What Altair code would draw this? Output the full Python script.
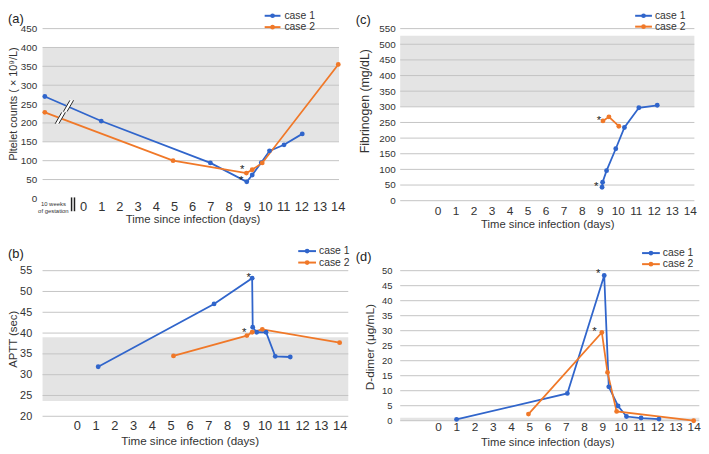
import altair as alt
import pandas as pd

CASES = ["case 1", "case 2"]
COLORS = ["#3065CB", "#F07828"]
BAND_COLOR = "#E4E4E4"
GRID_COLOR = "#C4C4C4"
TEXT_COLOR = "#333333"
FONT = "Liberation Sans"
DAY_TICKS = list(range(0, 15))
XTITLE = "Time since infection (days)"

# (a) platelet counts
A_DAYS_1 = [-2.1, 1.0, 7.0, 9.0, 9.3, 9.8, 10.25, 11.05, 12.05]
A_VALS_1 = [270, 205, 94, 44, 62, 95, 126, 142, 171]
A_DAYS_2 = [-2.1, 4.95, 8.98, 9.3, 9.85, 14.03]
A_VALS_2 = [228, 100, 67, 76, 94, 355]
A_TICKS = [0, 50, 100, 150, 200, 250, 300, 350, 400, 450]
A_GRID = [50, 100, 150, 200, 250, 300, 350, 400, 450]
A_BAND = [150, 400]
A_STAR_DAYS = [8.75, 8.7]
A_STAR_VALS = [84, 53]
A_BREAK_DAYS = [-0.8, -1.25]
A_BREAK_VALS = [245, 213]
GESTATION_LABEL = "10 weeks\nof gestation"
GESTATION_DAY = -1.63
AXIS_BREAK_DAYS = [-0.63, -0.47]

# (b) APTT
B_DAYS_1 = [1.14, 7.31, 9.34, 9.37, 9.58, 10.08, 10.57, 11.37]
B_VALS_1 = [31.9, 47.0, 53.2, 41.4, 40.2, 40.2, 34.4, 34.25]
B_DAYS_2 = [5.15, 9.06, 9.34, 9.88, 14.0]
B_VALS_2 = [34.5, 39.4, 40.2, 40.9, 37.7]
B_TICKS = [20, 25, 30, 35, 40, 45, 50, 55]
B_BAND = [23.7, 39.0]
B_STAR_DAYS = [9.15, 8.92]
B_STAR_VALS = [54.0, 40.6]

# (c) fibrinogen
C_DAYS_1 = [9.13, 9.16, 9.38, 9.89, 10.37, 11.17, 12.19]
C_VALS_1 = [43, 59, 96, 166, 234, 297, 305]
C_DAYS_2 = [9.18, 9.51, 10.06]
C_VALS_2 = [255, 268, 238]
C_TICKS = [0, 50, 100, 150, 200, 250, 300, 350, 400, 450, 500, 550]
C_BAND = [300, 527]
C_STAR_DAYS = [8.96, 8.8]
C_STAR_VALS = [265, 54]

# (d) D-dimer
D_DAYS_1 = [1.01, 7.08, 9.1, 9.35, 9.86, 10.32, 11.12, 12.1]
D_VALS_1 = [0.44, 9.1, 48.4, 11.3, 4.9, 1.4, 0.9, 0.55]
D_DAYS_2 = [4.95, 8.97, 9.28, 9.78, 14.0]
D_VALS_2 = [2.2, 29.4, 16.1, 3.1, 0.0]
D_TICKS = [0, 5, 10, 15, 20, 25, 30, 35, 40, 45, 50]
D_BAND = [0, 1]
D_STAR_DAYS = [8.77, 8.56]
D_STAR_VALS = [49.8, 30.4]


def panel(days1, vals1, days2, vals2, xdom, ydom, yticks, grid, band, w, h,
          ytitle, ylab_size, ylab_pad, ytitle_size, ytitle_x, ytitle_y,
          xlab_size, xlab_pad, xtitle_size, xtitle_x, xtitle_y,
          star_days, star_vals, tag, tag_x, tag_y,
          leg_x0, leg_x1, leg_tx, leg_rows, extra=None):
    xscale = alt.Scale(domain=xdom, nice=False, zero=False)
    yscale = alt.Scale(domain=ydom, nice=False, zero=False)
    xaxis = alt.Axis(values=DAY_TICKS, title=XTITLE, grid=False, ticks=False, tickSize=0,
                     domain=False, labelFontSize=xlab_size, labelPadding=xlab_pad,
                     labelBaseline="alphabetic", labelFlush=False, labelOverlap=False,
                     labelColor=TEXT_COLOR, titleFontSize=xtitle_size,
                     titleFontWeight="normal", titleColor=TEXT_COLOR,
                     titleX=xtitle_x, titleY=xtitle_y, titleBaseline="alphabetic")
    yaxis = alt.Axis(values=yticks, title=ytitle, grid=False, ticks=False, tickSize=0,
                     domain=False, labelFontSize=ylab_size, labelPadding=ylab_pad,
                     labelColor=TEXT_COLOR, labelOverlap=False, titleFontSize=ytitle_size,
                     titleFontWeight="normal", titleColor=TEXT_COLOR, titleX=ytitle_x,
                     titleY=ytitle_y, titleBaseline="middle", titleAngle=270)

    def X(f):
        return alt.X(f, type="quantitative", scale=xscale, axis=xaxis)

    def Y(f):
        return alt.Y(f, type="quantitative", scale=yscale, axis=yaxis)

    band_l = alt.Chart(pd.DataFrame({"x0": [xdom[0]], "x1": [xdom[1]],
                                     "y0": [band[0]], "y1": [band[1]]})).mark_rect(
        color=BAND_COLOR).encode(x=X("x0"), x2="x1", y=Y("y0"), y2="y1")
    grid_l = alt.Chart(pd.DataFrame({"g": grid})).mark_rule(
        color=GRID_COLOR, strokeWidth=1).encode(y=Y("g"))
    df = pd.concat([
        pd.DataFrame({"day": days1, "value": vals1, "case": CASES[0]}),
        pd.DataFrame({"day": days2, "value": vals2, "case": CASES[1]}),
    ])
    lines = alt.Chart(df).mark_line(
        strokeWidth=1.8, point=alt.OverlayMarkDef(filled=True, size=24)).encode(
        x=X("day"), y=Y("value"),
        color=alt.Color("case:N", scale=alt.Scale(domain=CASES, range=COLORS), legend=None))
    stars = alt.Chart(pd.DataFrame({"day": star_days, "value": star_vals})).mark_text(
        text="*", fontSize=11.5, baseline="alphabetic", dy=6, color="#222222").encode(
        x=X("day"), y=Y("value"))
    tag_l = alt.Chart(pd.DataFrame({"t": [tag]})).mark_text(
        align="left", baseline="middle", fontSize=13, color="#222222").encode(
        text="t:N", x=alt.value(tag_x), y=alt.value(tag_y))
    legend_layers = []
    for case, color, ypix in zip(CASES, COLORS, leg_rows):
        row = alt.Chart(pd.DataFrame({"case": [case]}))
        legend_layers += [
            row.mark_rule(strokeWidth=2, color=color).encode(
                x=alt.value(leg_x0), x2=alt.value(leg_x1), y=alt.value(ypix)),
            row.mark_circle(size=22, color=color, opacity=1).encode(
                x=alt.value((leg_x0 + leg_x1) / 2), y=alt.value(ypix)),
            row.mark_text(align="left", baseline="middle", fontSize=10.5,
                          color=TEXT_COLOR).encode(
                text="case:N", x=alt.value(leg_tx), y=alt.value(ypix)),
        ]
    layers = [band_l, grid_l, lines]
    if extra is not None:
        layers += extra(X, Y, h)
    layers += [stars, tag_l] + legend_layers
    return alt.layer(*layers).properties(width=w, height=h)


def a_extra(X, Y, h):
    brk = alt.Chart(pd.DataFrame({"day": A_BREAK_DAYS, "value": A_BREAK_VALS}))
    white = brk.transform_calculate(
        x0="datum.day - 0.18", x1="datum.day + 0.18",
        y0="datum.value - 15", y1="datum.value + 15").mark_rule(
        color="white", strokeWidth=4).encode(x=X("x0"), x2="x1", y=Y("y0"), y2="y1")
    slashes = []
    for off in (-0.1, 0.1):
        slashes.append(brk.transform_calculate(
            x0=f"datum.day - 0.18 + {off}", x1=f"datum.day + 0.18 + {off}",
            y0="datum.value - 15", y1="datum.value + 15").mark_rule(
            color="#222222", strokeWidth=1).encode(x=X("x0"), x2="x1", y=Y("y0"), y2="y1"))
    axbreak = alt.Chart(pd.DataFrame({"day": AXIS_BREAK_DAYS})).mark_rule(
        color="#222222", strokeWidth=1.5).encode(
        x=X("day"), y=alt.value(h - 1), y2=alt.value(h + 13))
    gest = alt.Chart(pd.DataFrame({"t": [GESTATION_LABEL], "day": [GESTATION_DAY]})).mark_text(
        lineBreak="\n", fontSize=6, lineHeight=7, baseline="top", color=TEXT_COLOR).encode(
        text="t:N", x=X("day"), y=alt.value(h + 3))
    return [white] + slashes + [axbreak, gest]


pa = panel(A_DAYS_1, A_VALS_1, A_DAYS_2, A_VALS_2, [-2.225, 14.07], [0, 450], A_TICKS,
           A_GRID, A_BAND, 300.3, 172,
           "Pltelet counts ( × 10⁹/L)", 10, 6, 11, -29, 76,
           13, 12.7, 11.5, 152, 24.8,
           A_STAR_DAYS, A_STAR_VALS, "(a)", -35, -10,
           225, 241, 245, [-13, -1.5], extra=a_extra)

pc = panel(C_DAYS_1, C_VALS_1, C_DAYS_2, C_VALS_2, [-2.065, 14.25], [0, 550], C_TICKS,
           C_TICKS, C_BAND, 298, 174.3,
           "Fibrinogen (mg/dL)", 10, 5, 12.5, -36, 73,
           12, 13.7, 11.4, 149, 27,
           C_STAR_DAYS, C_STAR_VALS, "(c)", -45, -9,
           238, 255, 258, [-13, -2])

pb = panel(B_DAYS_1, B_VALS_1, B_DAYS_2, B_VALS_2, [-1.824, 14.46], [20, 55], B_TICKS,
           B_TICKS, B_BAND, 309.7, 147.5,
           "APTT (sec)", 11, 11, 11.5, -29, 69,
           13, 13.7, 11.8, 149, 28.3,
           B_STAR_DAYS, B_STAR_VALS, "(b)", -35, -16.5,
           259, 277, 280, [-19.8, -8.2])

pd_ = panel(D_DAYS_1, D_VALS_1, D_DAYS_2, D_VALS_2, [-2.076, 14.31], [0, 50], D_TICKS,
            D_TICKS, D_BAND, 303, 152,
            "D-dimer (μg/mL)", 9.5, 8.3, 12, -31, 77,
            12, 10, 11.4, 149, 25,
            D_STAR_DAYS, D_STAR_VALS, "(d)", -45, -14,
            245, 263, 266, [-17.8, -6.6])

chart = alt.concat(
    pa, pc, pb, pd_, columns=2,
    spacing={"column": 52.3, "row": 70.2},
    bounds="flush", align="all", padding=0,
).configure(font=FONT).configure_view(stroke=None)

chart.save("out.html", embed_options={"renderer": "svg", "actions": False})
